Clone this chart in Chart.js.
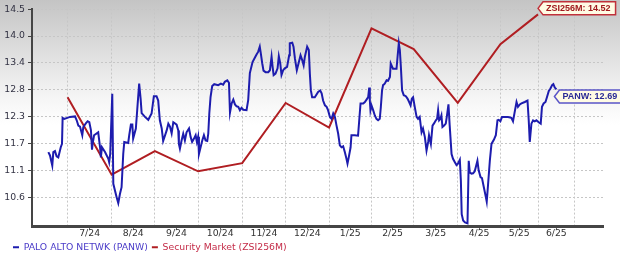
<!DOCTYPE html>
<html>
<head>
<meta charset="utf-8">
<script src="https://cdn.jsdelivr.net/npm/chart.js@4.4.1/dist/chart.umd.min.js"></script>
<style>
html,body{margin:0;padding:0;width:620px;height:254px;overflow:hidden;
 background:linear-gradient(to bottom,#c4c4c4 0px,#f4f4f4 95px,#ffffff 125px,#ffffff 254px);}
canvas{display:block;}
</style>
</head>
<body>
<canvas id="c" width="620" height="254"></canvas>
<script>
// ---- data (x = trading-day index from mid-June 2024) ----
const X_LABELS = ['7/24','8/24','9/24','10/24','11/24','12/24','1/25','2/25','3/25','4/25','5/25','6/25'];
const MONTH_POS = [17.2,38.5,59.4,80.3,101.6,122.6,143.6,164.1,184.5,205.8,226.4,244.6,262.3];
const X_MAX = 276;

const Y_TICKS = [10.60,11.16,11.71,12.27,12.84,13.39,13.95,14.50];
const Y_TICK_LABELS = ['10.6','11.1','11.7','12.3','12.8','13.4','14.0','14.5'];
const Y_MIN = 9.99, Y_MAX = 14.52;

const SERIES_NAMES = ['PALO ALTO NETWK (PANW)','Security Market (ZSI256M)'];
const TAG_LABELS = ['PANW: 12.69','ZSI256M: 14.52'];

const PANW_DAY = [
7.9,8.7,9.8,10.3,11.1,11.9,12.7,13.9,14.5,14.8,
15.6,18.4,20.8,21.6,22.4,23.2,23.7,24.3,24.8,26.1,
26.9,27.7,28.5,29.0,29.3,30.0,32.0,32.9,33.3,33.8,
35.3,36.9,37.3,37.8,38.8,39.3,40.9,41.7,42.5,43.3,
44.1,44.6,46.5,47.0,47.8,48.5,48.9,50.2,50.9,51.8,
52.5,53.0,54.6,56.2,57.8,58.9,60.2,61.0,61.8,62.7,
63.4,65.1,65.9,66.7,67.5,68.3,69.9,70.7,71.0,71.5,
72.3,73.1,73.9,74.7,75.9,76.7,77.4,78.3,79.1,79.7,
80.3,80.7,81.5,82.3,83.1,83.9,84.7,85.2,85.7,86.3,
87.1,88.1,90.0,91.3,92.4,93.2,94.4,95.2,95.7,96.5,
97.3,98.1,98.9,99.7,100.5,101.3,102.1,103.7,104.5,105.3,
106.6,107.7,108.6,109.3,110.1,110.6,111.3,111.9,112.9,114.2,
115.0,115.8,116.3,116.8,117.7,118.7,119.3,120.0,120.6,121.4,
122.2,123.3,124.3,124.6,125.8,126.4,127.1,128.0,129.0,129.8,
130.6,131.3,131.9,133.0,133.8,134.3,134.8,135.4,136.7,138.3,
139.3,140.0,140.7,141.6,142.4,143.1,144.0,144.8,145.6,146.4,
147.2,148.0,148.8,149.6,150.4,151.2,152.0,152.5,153.1,154.0,
154.4,156.0,157.6,158.1,158.8,160.1,160.9,161.7,162.5,163.0,
163.3,163.6,164.1,164.9,165.7,166.5,167.3,168.1,168.6,169.2,
169.7,170.5,171.4,172.1,173.0,173.4,174.1,174.5,176.2,176.7,
177.3,177.8,178.3,178.9,179.7,180.7,181.5,182.3,183.0,183.6,
184.2,185.0,185.9,186.6,187.4,188.3,189.0,189.9,190.7,191.5,
191.9,192.8,193.6,194.4,195.2,195.8,196.3,196.8,197.4,197.9,
198.4,199.2,200.0,200.6,201.3,201.9,202.8,203.5,204.4,205.2,
205.9,206.8,207.3,207.7,208.4,209.3,210.5,211.1,211.6,212.4,
213.2,214.0,215.3,215.9,216.8,217.5,218.4,219.2,219.8,220.4,
221.3,222.1,223.3,224.2,225.0,225.6,226.4,227.2,228.5,230.1,
231.7,232.5,233.3,234.2,234.9,235.8,236.6,238.2,239.5,240.1,
240.6,241.4,242.2,243.0,243.8,244.9,245.9,246.5,247.3,248.2,
248.9,249.8,250.6,251.4,252.0,252.7,253.5];

const PANW_VALUE = [
11.54,11.47,11.26,11.54,11.56,11.45,11.43,11.64,11.71,12.25,
12.23,12.27,12.28,12.20,12.09,12.07,11.99,11.89,12.06,12.14,
12.18,12.16,11.99,11.59,11.71,11.89,11.95,11.64,11.43,11.64,
11.54,11.40,11.33,11.50,12.75,10.88,10.60,10.48,10.67,10.81,
11.50,11.75,11.73,11.89,12.11,12.11,11.82,12.03,12.44,12.96,
12.65,12.35,12.27,12.21,12.34,12.70,12.70,12.61,12.20,12.03,
11.77,11.99,12.13,12.07,11.93,12.16,12.11,11.99,11.71,11.61,
11.78,11.92,11.78,11.95,12.03,11.85,11.75,11.82,11.89,11.75,
11.86,11.50,11.64,11.78,11.89,11.78,11.77,11.92,12.34,12.68,
12.91,12.95,12.93,12.96,12.94,13.00,13.03,12.98,12.36,12.55,
12.63,12.53,12.49,12.48,12.41,12.46,12.42,12.41,12.62,13.18,
13.41,13.50,13.57,13.62,13.73,13.59,13.38,13.23,13.20,13.20,
13.24,13.52,13.31,13.14,13.17,13.28,13.53,13.38,13.14,13.24,
13.28,13.31,13.55,13.80,13.81,13.73,13.48,13.24,13.41,13.55,
13.45,13.34,13.52,13.73,13.66,13.17,12.82,12.68,12.68,12.79,
12.82,12.76,12.61,12.51,12.48,12.41,12.27,12.23,12.34,12.27,
12.09,11.92,11.68,11.64,11.66,11.54,11.40,11.30,11.43,11.64,
11.89,11.89,11.88,12.16,12.55,12.55,12.58,12.63,12.68,12.88,
12.61,12.41,12.51,12.41,12.30,12.23,12.20,12.23,12.47,12.82,
12.93,12.96,13.03,13.02,13.10,13.38,13.31,13.27,13.27,13.52,
13.80,13.66,13.31,12.82,12.72,12.70,12.65,12.58,12.51,12.65,
12.68,12.48,12.27,12.23,12.27,11.95,12.03,11.85,11.57,11.75,
11.89,11.71,12.09,12.14,12.20,12.23,12.41,12.20,12.23,12.30,
12.06,12.09,12.13,12.30,12.53,12.09,11.50,11.40,11.33,11.27,
11.30,11.38,10.95,10.25,10.12,10.08,10.06,11.36,11.12,11.09,
11.10,11.14,11.36,11.16,11.02,11.00,10.81,10.64,10.51,10.84,
11.36,11.71,11.80,11.89,12.20,12.21,12.18,12.27,12.27,12.27,
12.25,12.18,12.37,12.58,12.48,12.53,12.55,12.58,12.61,12.20,
11.75,12.13,12.20,12.18,12.20,12.16,12.13,12.48,12.55,12.58,
12.68,12.81,12.86,12.93,12.95,12.88,12.84];

// Security Market index, one value per month start (Jul 2024 .. Jun 2025)
const ZSI_VALUE = [12.68,11.07,11.56,11.14,11.31,12.56,12.05,14.11,13.68,12.56,13.78,14.40];

// ---- styling ----
const FONT = '"DejaVu Sans", Verdana, sans-serif';
const BLUE = '#1d1cae';
const RED = '#b01e22';
const LEGEND_TEXT = ['#4a3bc8','#c42c48'];
const TAG_STYLE = [
  {dx:-2, dy:7, border:'#5a55c8', text:'#2a2a96'},
  {dx:0, dy:-6, border:'#c0303a', text:'#a01a1e'}
];

const panwData = PANW_DAY.map((d,i)=>({x:d, y:PANW_VALUE[i]}));
const zsiData = ZSI_VALUE.map((v,i)=>({x:MONTH_POS[i], y:v}));

const endTags = {
  id:'endTags',
  afterDatasetsDraw(chart){
    const ctx = chart.ctx;
    chart.data.datasets.forEach((ds,i)=>{
      const meta = chart.getDatasetMeta(i);
      const pt = meta.data[meta.data.length-1];
      const st = TAG_STYLE[i];
      const text = TAG_LABELS[i];
      ctx.save();
      ctx.font = 'bold 9px "Liberation Sans", Arial, sans-serif';
      const w = ctx.measureText(text).width;
      const h = 13;
      const tipX = pt.x + st.dx, midY = pt.y + st.dy;
      const left = tipX + 5, right = left + w + 8;
      ctx.beginPath();
      ctx.moveTo(tipX, midY);
      ctx.lineTo(left, midY - h/2);
      ctx.lineTo(right, midY - h/2);
      ctx.lineTo(right, midY + h/2);
      ctx.lineTo(left, midY + h/2);
      ctx.closePath();
      ctx.fillStyle = '#fffbe4';
      ctx.fill();
      ctx.lineWidth = 1.5;
      ctx.strokeStyle = st.border;
      ctx.stroke();
      ctx.fillStyle = st.text;
      ctx.textBaseline = 'middle';
      ctx.textAlign = 'left';
      ctx.fillText(text, left + 3, midY + 0.5);
      ctx.restore();
    });
  }
};

// shift the legend row to the right a little, like the original
const legendShift = {
  id:'legendShift',
  afterLayout(chart){ if (chart.legend) { chart.legend.left += 9; } }
};

new Chart(document.getElementById('c'), {
  type:'line',
  data:{
    datasets:[
      {label:SERIES_NAMES[0], data:panwData, borderColor:BLUE, backgroundColor:BLUE, borderWidth:2, pointRadius:0, tension:0, fill:false},
      {label:SERIES_NAMES[1], data:zsiData, borderColor:RED, backgroundColor:RED, borderWidth:2, pointRadius:0, tension:0, fill:false}
    ]
  },
  options:{
    responsive:false,
    animation:false,
    devicePixelRatio:1,
    layout:{padding:{left:0, right:17, top:8, bottom:-8}},
    plugins:{
      tooltip:{enabled:false},
      legend:{
        position:'bottom',
        align:'start',
        labels:{
          boxWidth:6, boxHeight:2, padding:4,
          font:{family:FONT, size:9.3},
          generateLabels:(chart)=>chart.data.datasets.map((ds,i)=>({
            text:ds.label, fillStyle:ds.borderColor, strokeStyle:ds.borderColor,
            lineWidth:0, fontColor:LEGEND_TEXT[i], datasetIndex:i, hidden:false
          }))
        }
      }
    },
    scales:{
      x:{
        type:'linear', min:0, max:X_MAX,
        afterFit:(s)=>{ s.height = 12; },
        afterBuildTicks:(s)=>{
          const t = [];
          MONTH_POS.forEach(v=>t.push({value:v, isGrid:true}));
          X_LABELS.forEach((l,i)=>t.push({value:(MONTH_POS[i]+MONTH_POS[i+1])/2, lbl:l}));
          t.sort((a,b)=>a.value-b.value);
          s.ticks = t;
        },
        ticks:{autoSkip:false, maxRotation:0, minRotation:0, padding:-2, color:'#333',
          font:{family:FONT, size:9.3},
          callback:(v,i,ts)=> (ts[i] && ts[i].lbl) ? ts[i].lbl : ''},
        grid:{
          color:(c)=> (c.tick && c.tick.isGrid) ? '#c6c6c6' : 'rgba(0,0,0,0)',
          tickColor:(c)=> (c.tick && !c.tick.isGrid) ? '#666' : 'rgba(0,0,0,0)',
          tickLength:3, tickBorderDash:[], lineWidth:1
        },
        border:{color:'#454545', width:3, dash:[2,2]}
      },
      y:{
        type:'linear', min:Y_MIN, max:Y_MAX,
        afterFit:(s)=>{ s.width = 32; },
        afterBuildTicks:(s)=>{ s.ticks = Y_TICKS.map(v=>({value:v})); },
        ticks:{autoSkip:false, padding:3, color:'#333344',
          font:{family:FONT, size:9.3},
          callback:(v,i)=>Y_TICK_LABELS[i]},
        grid:{color:'#c6c6c6', tickColor:'#444', tickLength:4, tickBorderDash:[], lineWidth:1},
        border:{color:'#454545', width:2, dash:[2,2]}
      }
    }
  },
  plugins:[endTags, legendShift]
});
</script>
</body>
</html>
